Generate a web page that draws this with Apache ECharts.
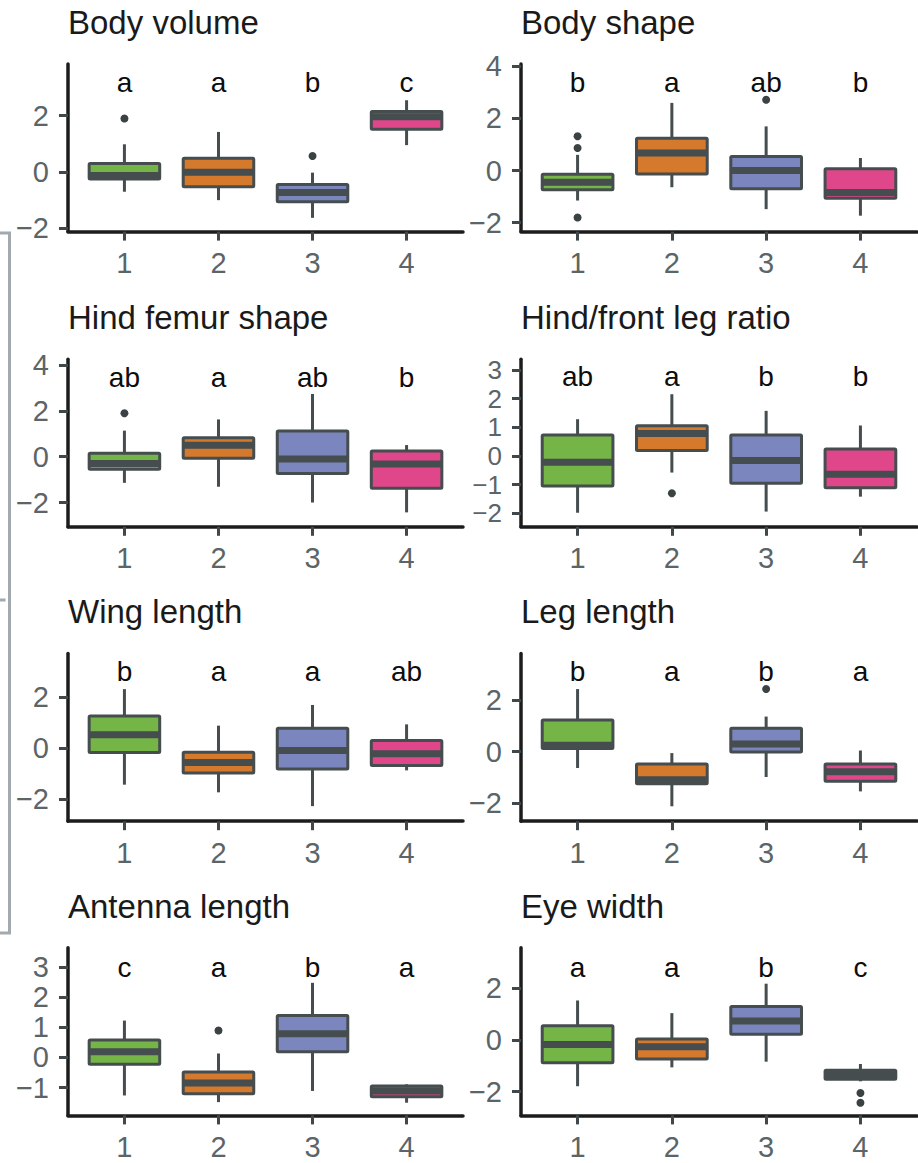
<!DOCTYPE html>
<html><head><meta charset="utf-8">
<script src="https://cdn.jsdelivr.net/npm/echarts@6/dist/echarts.min.js"></script>
<style>html,body{margin:0;padding:0;background:#fff}#c{width:918px;height:1163px}</style>
</head><body><div id="c"></div>
<script>
// ---------- DATA ----------
const categories = ['1', '2', '3', '4'];

// each row: [lower whisker, Q1, median, Q3, upper whisker]
const bodyVolumeStats = [[-0.71, -0.26, -0.13, 0.30, 0.98], [-1.01, -0.53, -0.02, 0.48, 1.42], [-1.64, -1.07, -0.74, -0.45, -0.03], [0.95, 1.52, 1.96, 2.15, 2.55]];
const bodyVolumeOutliers = [[1, 1.90], [3, 0.56]];
const bodyVolumeLetters = ['a', 'a', 'b', 'c'];
const bodyVolumeTicks = [-2, 0, 2];

const bodyShapeStats = [[-1.15, -0.74, -0.45, -0.14, 0.60], [-0.64, -0.13, 0.67, 1.24, 2.59], [-1.48, -0.70, 0.0, 0.54, 1.69], [-1.73, -1.06, -0.84, 0.07, 0.48]];
const bodyShapeOutliers = [[1, 1.31], [1, 0.86], [1, -1.80], [3, 2.71]];
const bodyShapeLetters = ['b', 'a', 'ab', 'b'];
const bodyShapeTicks = [-2, 0, 2, 4];

const hindFemurStats = [[-1.14, -0.55, -0.29, 0.15, 1.14], [-1.31, -0.07, 0.50, 0.83, 1.63], [-2.0, -0.73, -0.10, 1.12, 2.74], [-2.43, -1.38, -0.32, 0.25, 0.51]];
const hindFemurOutliers = [[1, 1.90]];
const hindFemurLetters = ['ab', 'a', 'ab', 'b'];
const hindFemurTicks = [-2, 0, 2, 4];

const legRatioStats = [[-1.98, -1.05, -0.22, 0.73, 1.28], [-0.58, 0.19, 0.78, 1.05, 2.15], [-1.94, -0.95, -0.16, 0.73, 1.57], [-1.42, -1.11, -0.64, 0.24, 1.06]];
const legRatioOutliers = [[2, -1.30]];
const legRatioLetters = ['ab', 'a', 'b', 'b'];
const legRatioTicks = [-2, -1, 0, 1, 2, 3];

const wingLengthStats = [[-1.43, -0.17, 0.52, 1.26, 2.31], [-1.73, -0.97, -0.56, -0.16, 0.88], [-2.27, -0.82, -0.09, 0.78, 1.69], [-0.87, -0.68, -0.22, 0.30, 0.93]];
const wingLengthOutliers = [];
const wingLengthLetters = ['b', 'a', 'a', 'ab'];
const wingLengthTicks = [-2, 0, 2];

const legLengthStats = [[-0.64, 0.12, 0.24, 1.23, 2.43], [-2.13, -1.25, -1.10, -0.48, -0.06], [-0.99, -0.02, 0.29, 0.91, 1.36], [-1.55, -1.16, -0.79, -0.48, 0.04]];
const legLengthOutliers = [[3, 2.43]];
const legLengthLetters = ['b', 'a', 'b', 'a'];
const legLengthTicks = [-2, 0, 2];

const antennaLengthStats = [[-1.26, -0.23, 0.19, 0.58, 1.22], [-1.48, -1.20, -0.85, -0.48, 0.13], [-1.11, 0.19, 0.78, 1.39, 2.47], [-1.50, -1.30, -1.11, -0.95, -0.89]];
const antennaLengthOutliers = [[2, 0.89]];
const antennaLengthLetters = ['c', 'a', 'b', 'a'];
const antennaLengthTicks = [-1, 0, 1, 2, 3];

const eyeWidthStats = [[-1.79, -0.88, -0.17, 0.55, 1.53], [-1.06, -0.74, -0.26, 0.04, 1.04], [-0.84, 0.22, 0.74, 1.30, 2.18], [-1.60, -1.52, -1.34, -1.17, -0.93]];
const eyeWidthOutliers = [[4, -2.05], [4, -2.43]];
const eyeWidthLetters = ['a', 'a', 'b', 'c'];
const eyeWidthTicks = [-2, 0, 2];

const panelTitles = ['Body volume', 'Body shape', 'Hind femur shape', 'Hind/front leg ratio', 'Wing length', 'Leg length', 'Antenna length', 'Eye width'];
// y-axis extent [min, max] and height of the letter labels, per panel
const yRanges = [[-2.13, 3.84], [-2.34, 4.08], [-3.06, 4.26], [-2.47, 3.37], [-2.86, 3.70], [-2.71, 3.81], [-1.92, 3.63], [-2.92, 3.57]];
const letterHeights = [3.18, 3.39, 3.47, 2.75, 3.01, 3.12, 2.99, 2.82];

const panels = [
  { stats: bodyVolumeStats, outliers: bodyVolumeOutliers, letters: bodyVolumeLetters, ticks: bodyVolumeTicks },
  { stats: bodyShapeStats, outliers: bodyShapeOutliers, letters: bodyShapeLetters, ticks: bodyShapeTicks },
  { stats: hindFemurStats, outliers: hindFemurOutliers, letters: hindFemurLetters, ticks: hindFemurTicks },
  { stats: legRatioStats, outliers: legRatioOutliers, letters: legRatioLetters, ticks: legRatioTicks },
  { stats: wingLengthStats, outliers: wingLengthOutliers, letters: wingLengthLetters, ticks: wingLengthTicks },
  { stats: legLengthStats, outliers: legLengthOutliers, letters: legLengthLetters, ticks: legLengthTicks },
  { stats: antennaLengthStats, outliers: antennaLengthOutliers, letters: antennaLengthLetters, ticks: antennaLengthTicks },
  { stats: eyeWidthStats, outliers: eyeWidthOutliers, letters: eyeWidthLetters, ticks: eyeWidthTicks }
];

// ---------- STYLE / LAYOUT ----------
const FONT = '"Liberation Sans", Arial, Helvetica, sans-serif';
const boxColors = ['#75b446', '#d5792c', '#7b86bf', '#e0478b'];
const EDGE = '#454d4f';
const AXIS = '#1c1c1c';
const TICK = '#40484b';
const LABEL = '#5b6568';
const BOX_WIDTH = 0.75;
const COL_LEFT = [68, 521];
const COL_WIDTH = [395, 396];
const ROW_TOP = [64, 359.2, 653.6, 947.8];
const ROW_HEIGHT = 167.6;
const Y_LABEL_SIZE = [29, 29, 29, 26, 29, 29, 29, 29];

const chart = echarts.init(document.getElementById('c'), null, { renderer: 'svg' });

function fmtMinus(v) { return v < 0 ? '\u2212' + Math.abs(v) : String(v); }

function renderBox(params, api) {
  const x = api.value(0);
  const pMin = api.coord([x, api.value(1)]);
  const pQ1 = api.coord([x, api.value(2)]);
  const pMed = api.coord([x, api.value(3)]);
  const pQ3 = api.coord([x, api.value(4)]);
  const pMax = api.coord([x, api.value(5)]);
  const halfW = api.size([BOX_WIDTH, 0])[0] / 2;
  const fill = boxColors[params.dataIndex % boxColors.length];
  return {
    type: 'group',
    children: [
      { type: 'line', shape: { x1: pMax[0], y1: pMax[1], x2: pQ3[0], y2: pQ3[1] }, style: { stroke: EDGE, lineWidth: 3 } },
      { type: 'line', shape: { x1: pMin[0], y1: pMin[1], x2: pQ1[0], y2: pQ1[1] }, style: { stroke: EDGE, lineWidth: 3 } },
      { type: 'rect', shape: { x: pQ3[0] - halfW, y: pQ3[1], width: 2 * halfW, height: pQ1[1] - pQ3[1], r: 1 }, style: { fill: fill, stroke: EDGE, lineWidth: 3 } },
      { type: 'line', shape: { x1: pMed[0] - halfW, y1: pMed[1], x2: pMed[0] + halfW, y2: pMed[1] }, style: { stroke: EDGE, lineWidth: 7 } }
    ]
  };
}

const grids = [], xAxes = [], yAxes = [], series = [], graphics = [];
panels.forEach((p, i) => {
  const col = i % 2, row = Math.floor(i / 2);
  grids.push({ left: COL_LEFT[col], top: ROW_TOP[row], width: COL_WIDTH[col], height: ROW_HEIGHT, outerBoundsMode: 'none', containLabel: false });
  xAxes.push({
    type: 'value', gridIndex: i, min: 0.4, max: 4.6,
    splitLine: { show: false },
    axisLine: { show: true, onZero: false, lineStyle: { color: AXIS, width: 3.5 } },
    axisTick: { show: true, customValues: [1, 2, 3, 4], length: 9, lineStyle: { color: TICK, width: 3 } },
    axisLabel: { show: true, customValues: [1, 2, 3, 4], formatter: v => categories[Math.round(v) - 1], fontSize: 29, color: LABEL, fontFamily: FONT, margin: 17, hideOverlap: false }
  });
  yAxes.push({
    type: 'value', gridIndex: i, min: yRanges[i][0], max: yRanges[i][1],
    splitLine: { show: false },
    axisLine: { show: true, onZero: false, lineStyle: { color: AXIS, width: 3.5 } },
    axisTick: { show: true, customValues: p.ticks, length: 9, lineStyle: { color: TICK, width: 3 } },
    axisLabel: { show: true, customValues: p.ticks, formatter: fmtMinus, fontSize: Y_LABEL_SIZE[i], lineHeight: Y_LABEL_SIZE[i], color: LABEL, fontFamily: FONT, margin: 19, hideOverlap: false, showMinLabel: true, showMaxLabel: true }
  });
  series.push({
    type: 'custom', xAxisIndex: i, yAxisIndex: i, renderItem: renderBox, silent: true,
    encode: { x: 0, y: [1, 2, 3, 4, 5] },
    data: p.stats.map((s, k) => [k + 1].concat(s))
  });
  series.push({
    type: 'scatter', xAxisIndex: i, yAxisIndex: i, silent: true, symbol: 'circle', symbolSize: 8,
    itemStyle: { color: '#3a4244', opacity: 1 }, data: p.outliers
  });
  series.push({
    type: 'scatter', xAxisIndex: i, yAxisIndex: i, silent: true, symbolSize: 0,
    itemStyle: { opacity: 1 },
    label: { show: true, position: 'inside', formatter: '{b}', fontSize: 28, color: '#0d0d0d', fontFamily: FONT, opacity: 1, textBorderWidth: 0 },
    data: p.letters.map((l, k) => ({ name: l, value: [k + 1, letterHeights[i]] }))
  });
  graphics.push({
    type: 'text', x: COL_LEFT[col], y: ROW_TOP[row] - 41.8,
    style: { text: panelTitles[i], font: '33px ' + FONT, fill: '#1a1a1a', verticalAlign: 'middle', align: 'left' }
  });
});

// grey bracket on the left margin
graphics.push({ type: 'polyline', shape: { points: [[0, 233], [9.5, 233], [9.5, 933], [0, 933]] }, style: { stroke: '#a2a9af', lineWidth: 3, fill: null } });
graphics.push({ type: 'line', shape: { x1: 0, y1: 600, x2: 5.5, y2: 600 }, style: { stroke: '#a2a9af', lineWidth: 3 } });

chart.setOption({
  animation: false,
  backgroundColor: '#ffffff',
  grid: grids, xAxis: xAxes, yAxis: yAxes, series: series,
  graphic: graphics
});
</script></body></html>
